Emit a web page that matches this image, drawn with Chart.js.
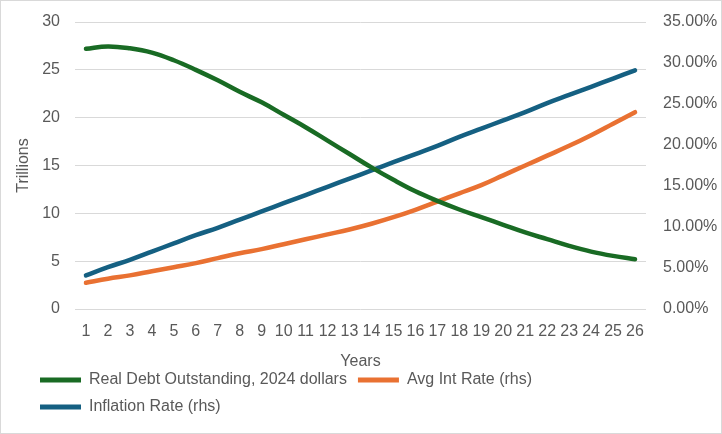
<!DOCTYPE html>
<html>
<head>
<meta charset="utf-8">
<script src="https://cdn.jsdelivr.net/npm/chart.js@4.4.1/dist/chart.umd.min.js"></script>
<style>
  html, body { margin: 0; padding: 0; background: #fff; }
</style>
</head>
<body>
<canvas id="chart" width="722" height="434"></canvas>
<script>
const years = ['1', '2', '3', '4', '5', '6', '7', '8', '9', '10', '11', '12', '13',
               '14', '15', '16', '17', '18', '19', '20', '21', '22', '23', '24', '25', '26'];
// trillions, 2024 dollars (left axis)
const realDebt = [27.2, 27.45, 27.25, 26.8, 26.0, 25.0, 23.9, 22.7, 21.6, 20.3, 19.0, 17.6, 16.2,
                  14.8, 13.5, 12.3, 11.3, 10.4, 9.6, 8.8, 8.0, 7.3, 6.6, 6.0, 5.55, 5.2];
// percent (right axis)
const avgIntRate = [3.2, 3.7, 4.1, 4.6, 5.1, 5.6, 6.2, 6.8, 7.3, 7.9, 8.5, 9.1, 9.7,
                    10.4, 11.2, 12.1, 13.1, 14.1, 15.1, 16.3, 17.5, 18.7, 19.9, 21.2, 22.6, 24.0];
const inflationRate = [4.1, 5.1, 6.0, 7.0, 8.0, 9.0, 9.9, 10.9, 11.9, 12.9, 13.9, 14.9, 15.9,
                       16.9, 17.9, 18.9, 19.9, 21.0, 22.0, 23.0, 24.0, 25.1, 26.1, 27.1, 28.1, 29.1];

const green = '#196B24';
const orange = '#E97132';
const blue = '#156082';

Chart.defaults.font.family = '"Liberation Sans", Arial, sans-serif';
Chart.defaults.font.size = 16;
Chart.defaults.color = '#595959';

function line(label, data, color, axis) {
    return {
        label: label,
        data: data,
        yAxisID: axis,
        borderColor: color,
        backgroundColor: color,
        borderWidth: 4.5,
        borderCapStyle: 'round',
        borderJoinStyle: 'round',
        pointRadius: 0,
        tension: 0.4
    };
}

// white background + thin outer frame like the Excel chart box
const frame = {
    id: 'frame',
    beforeDraw(chart) {
        const c = chart.ctx;
        c.save();
        c.fillStyle = '#fff';
        c.fillRect(0, 0, chart.width, chart.height);
        c.restore();
    },
    afterDraw(chart) {
        const c = chart.ctx;
        c.save();
        c.strokeStyle = '#d9d9d9';
        c.lineWidth = 1;
        c.strokeRect(0.5, 0.5, chart.width - 1, chart.height - 1);
        c.restore();
    }
};

new Chart(document.getElementById('chart').getContext('2d'), {
    type: 'line',
    data: {
        labels: years,
        datasets: [
            line('Real Debt Outstanding, 2024 dollars', realDebt, green, 'y'),
            line('Avg Int Rate (rhs)', avgIntRate, orange, 'y1'),
            line('Inflation Rate (rhs)', inflationRate, blue, 'y1')
        ]
    },
    options: {
        responsive: false,
        animation: false,
        layout: { padding: { left: 29, right: 4, top: 22, bottom: 9 } },
        plugins: {
            tooltip: { enabled: false },
            legend: {
                position: 'bottom',
                align: 'start',
                labels: {
                    boxWidth: 41,
                    boxHeight: 5,
                    padding: 11,
                    color: '#595959',
                    generateLabels(chart) {
                        const items = Chart.defaults.plugins.legend.labels.generateLabels(chart);
                        items.forEach(it => { it.lineWidth = 0; });
                        return items;
                    }
                }
            }
        },
        scales: {
            x: {
                offset: true,
                grid: { display: false, drawTicks: false },
                border: { display: false },
                ticks: { padding: 13, autoSkip: false, maxRotation: 0 },
                title: { display: true, text: 'Years', padding: { top: 0, bottom: -10 } },
                afterFit(s) { s.height = 52; }
            },
            y: {
                position: 'left',
                min: 0,
                max: 30,
                ticks: { stepSize: 5, padding: 15 },
                grid: { color: '#d9d9d9', drawTicks: false },
                border: { display: false },
                title: { display: true, text: 'Trillions', padding: { top: -15, bottom: 0 } },
                afterFit(s) { s.width = 46; s.paddingTop = 0; s.paddingBottom = 0; }
            },
            y1: {
                position: 'right',
                min: 0,
                max: 35,
                ticks: { stepSize: 5, padding: 17, callback: v => v.toFixed(2) + '%' },
                grid: { display: false, drawTicks: false },
                border: { display: false },
                afterFit(s) { s.width = 72; s.paddingTop = 0; s.paddingBottom = 0; }
            }
        }
    },
    plugins: [frame]
});
</script>
</body>
</html>
